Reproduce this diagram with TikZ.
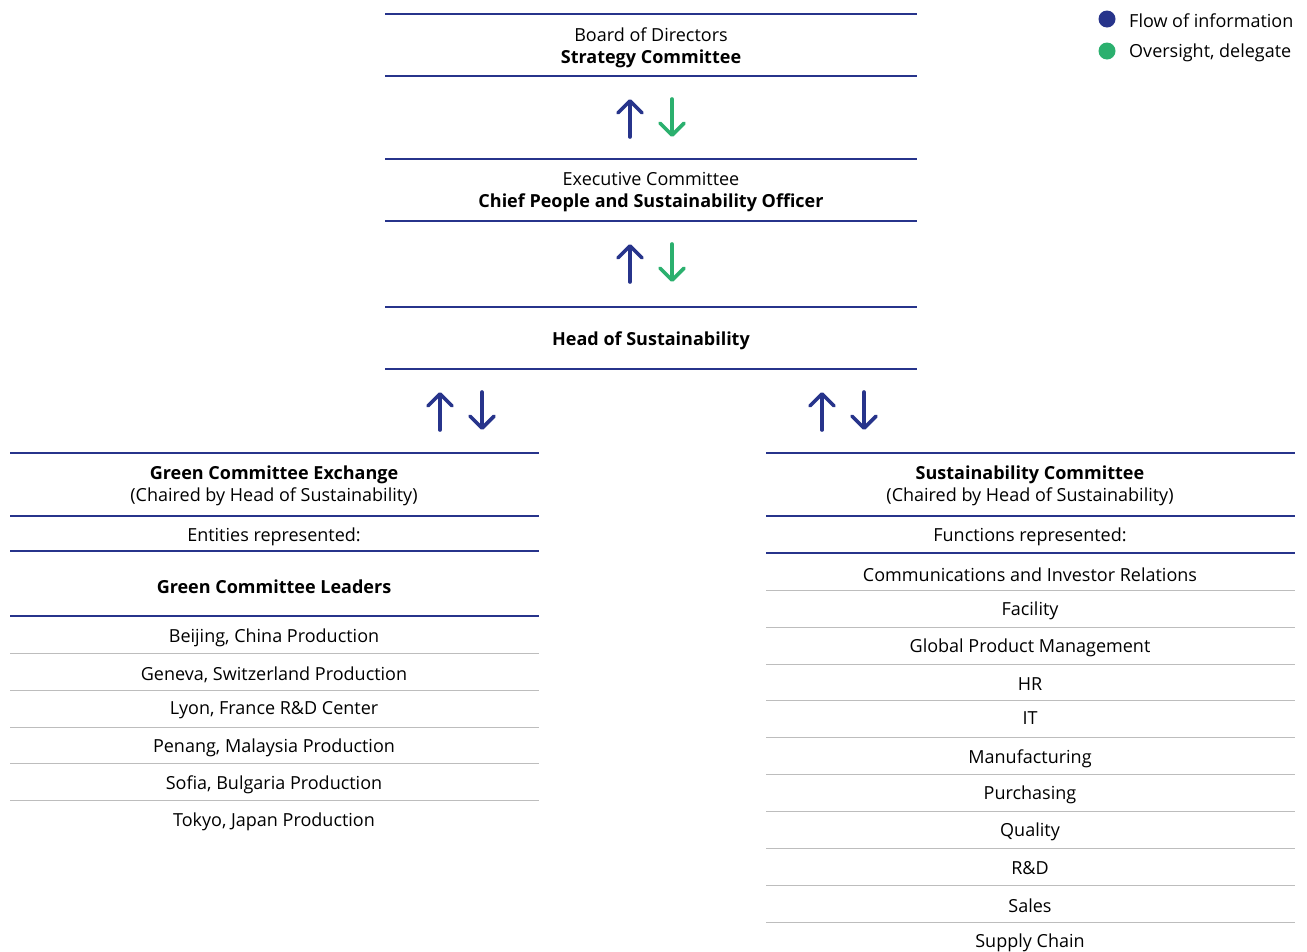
\documentclass[tikz,border=0pt]{standalone}
\usepackage{fontspec}
\setmainfont{Open Sans}
\usetikzlibrary{arrows.meta}

\definecolor{navy}{HTML}{27348B}
\definecolor{leaf}{HTML}{2BB06E}
\definecolor{rulegray}{HTML}{BDBDBD}

\tikzstyle{txt} = [align=center, font=\fontsize{18}{22}\selectfont, inner sep=0pt, yshift=-1.5pt]
\tikzstyle{heavy} = [draw=navy, line width=2pt]
\tikzstyle{light} = [draw=navy, line width=1.2pt]
\tikzstyle{grayrule} = [draw=rulegray, line width=1pt]
\tikzstyle{infoarrow} = [draw=navy, line width=3.6pt, line cap=round,
    -{Straight Barb[length=12pt, width=24pt, round]}]
\tikzstyle{dutyarrow} = [infoarrow, draw=leaf]
\tikzstyle{dot} = [circle, inner sep=0pt, minimum size=17pt]

\begin{document}
\begin{tikzpicture}[x=1pt, y=-1pt]
	\useasboundingbox (0,0) rectangle (1307,951);

	% Legend
	\node [dot, fill=navy] (dotinfo) at (1107,19) {};
	\node [txt, anchor=west] (keyinfo) at (1129,19) {Flow of information};
	\node [dot, fill=leaf] (dotduty) at (1107,51) {};
	\node [txt, anchor=west] (keyduty) at (1129,51) {Oversight, delegate};

	% Board
	\draw [heavy] (385,14) -- (917,14);
	\node [txt] (Board) at (651,46) {Board of Directors\\\textbf{Strategy Committee}};
	\draw [heavy] (385,76) -- (917,76);

	\coordinate (upA) at (630,137); \coordinate (upAtip) at (630,99);
	\coordinate (dnA) at (672,99); \coordinate (dnAtip) at (672,137);
	\draw [infoarrow] (upA) -- (upAtip);
	\draw [dutyarrow] (dnA) -- (dnAtip);

	% Executive committee
	\draw [heavy] (385,159) -- (917,159);
	\node [txt] (ExecCommittee) at (651,191) {Executive Committee\\\textbf{Chief People and Sustainability Officer}};
	\draw [heavy] (385,221) -- (917,221);

	\coordinate (upB) at (630,282); \coordinate (upBtip) at (630,244);
	\coordinate (dnB) at (672,244); \coordinate (dnBtip) at (672,282);
	\draw [infoarrow] (upB) -- (upBtip);
	\draw [dutyarrow] (dnB) -- (dnBtip);

	% Head of sustainability
	\draw [heavy] (385,307) -- (917,307);
	\node [txt] (HeadSust) at (651,339) {\textbf{Head of Sustainability}};
	\draw [heavy] (385,369) -- (917,369);

	\coordinate (upL) at (440,430); \coordinate (upLtip) at (440,392);
	\coordinate (dnL) at (482,392); \coordinate (dnLtip) at (482,430);
	\coordinate (upR) at (822,430); \coordinate (upRtip) at (822,392);
	\coordinate (dnR) at (864,392); \coordinate (dnRtip) at (864,430);
	\draw [infoarrow] (upL) -- (upLtip);
	\draw [infoarrow] (dnL) -- (dnLtip);
	\draw [infoarrow] (upR) -- (upRtip);
	\draw [infoarrow] (dnR) -- (dnRtip);

	% Green committee exchange
	\draw [heavy] (10,453) -- (539,453);
	\node [txt] (GreenExchange) at (274,484) {\textbf{Green Committee Exchange}\\(Chaired by Head of Sustainability)};
	\draw [heavy] (10,516) -- (539,516);
	\node [txt] (Entities) at (274,535) {Entities represented:};
	\draw [light] (10,551) -- (539,551);
	\node [txt] (GreenLeaders) at (274,585) {\textbf{Green Committee Leaders}};
	\draw [heavy] (10,616) -- (539,616);
	\node [txt] (Beijing) at (274,636) {Beijing, China Production};
	\draw [grayrule] (10,653) -- (539,653);
	\node [txt] (Geneva) at (274,673) {Geneva, Switzerland Production};
	\draw [grayrule] (10,690) -- (539,690);
	\node [txt] (Lyon) at (274,709) {Lyon, France R\&D Center};
	\draw [grayrule] (10,727) -- (539,727);
	\node [txt] (Penang) at (274,746) {Penang, Malaysia Production};
	\draw [grayrule] (10,763) -- (539,763);
	\node [txt] (Sofia) at (274,783) {Sofia, Bulgaria Production};
	\draw [grayrule] (10,800) -- (539,800);
	\node [txt] (Tokyo) at (274,820) {Tokyo, Japan Production};

	% Sustainability committee
	\draw [heavy] (766,453) -- (1295,453);
	\node [txt] (SustCommittee) at (1030,484) {\textbf{Sustainability Committee}\\(Chaired by Head of Sustainability)};
	\draw [heavy] (766,516) -- (1295,516);
	\node [txt] (Functions) at (1030,535) {Functions represented:};
	\draw [light] (766,553) -- (1295,553);
	\node [txt] (Comms) at (1030,573) {Communications and Investor Relations};
	\draw [grayrule] (766,590) -- (1295,590);
	\node [txt] (Facility) at (1030,609) {Facility};
	\draw [grayrule] (766,627) -- (1295,627);
	\node [txt] (GlobalProduct) at (1030,646) {Global Product Management};
	\draw [grayrule] (766,664) -- (1295,664);
	\node [txt] (HR) at (1030,683) {HR};
	\draw [grayrule] (766,700) -- (1295,700);
	\node [txt] (IT) at (1030,717) {IT};
	\draw [grayrule] (766,737) -- (1295,737);
	\node [txt] (Manufacturing) at (1030,757) {Manufacturing};
	\draw [grayrule] (766,774) -- (1295,774);
	\node [txt] (Purchasing) at (1030,793) {Purchasing};
	\draw [grayrule] (766,811) -- (1295,811);
	\node [txt] (Quality) at (1030,830) {Quality};
	\draw [grayrule] (766,848) -- (1295,848);
	\node [txt] (RandD) at (1030,867) {R\&D};
	\draw [grayrule] (766,885) -- (1295,885);
	\node [txt] (Sales) at (1030,904) {Sales};
	\draw [grayrule] (766,922) -- (1295,922);
	\node [txt] (SupplyChain) at (1030,941) {Supply Chain};

\end{tikzpicture}
\end{document}
